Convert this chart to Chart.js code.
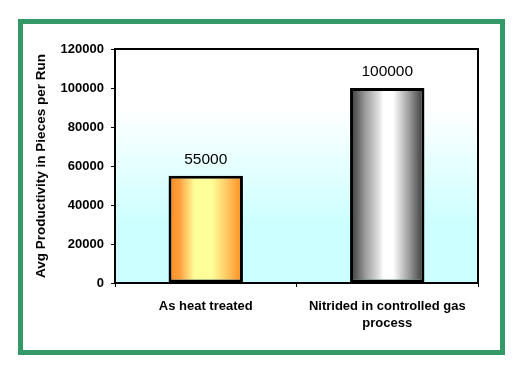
<!DOCTYPE html>
<html>
<head>
<meta charset="utf-8">
<script src="https://cdn.jsdelivr.net/npm/chart.js@4/dist/chart.umd.min.js"></script>
<style>
  html, body { margin: 0; padding: 0; background: #fff; }
  canvas { display: block; }
</style>
</head>
<body>
<canvas id="chart" width="523" height="373"></canvas>
<script>
const categories = ['As heat treated', ['Nitrided in controlled gas', 'process']];
const productivity = [55000, 100000];
const yTicks = [0, 20000, 40000, 60000, 80000, 100000, 120000];

const fontFamily = '"Liberation Sans", Arial, sans-serif';

// frame and plot background
const framePlugin = {
    id: 'frame',
    beforeDraw(chart) {
        const ctx = chart.ctx;
        ctx.save();
        ctx.fillStyle = '#ffffff';
        ctx.fillRect(0, 0, chart.width, chart.height);
        ctx.fillStyle = '#339966';
        ctx.fillRect(18, 19, 487, 336);
        ctx.fillStyle = '#ffffff';
        ctx.fillRect(23, 24, 477, 326);

        const a = chart.chartArea;
        const g = ctx.createLinearGradient(0, a.top, 0, a.bottom);
        g.addColorStop(0, '#ffffff');
        g.addColorStop(0.25, '#ffffff');
        g.addColorStop(0.75, '#ccffff');
        g.addColorStop(1, '#ccffff');
        ctx.fillStyle = g;
        ctx.fillRect(a.left, a.top, a.right - a.left, a.bottom - a.top);
        ctx.restore();
    },
    afterDatasetsDraw(chart) {
        const ctx = chart.ctx;
        const a = chart.chartArea;
        ctx.save();
        ctx.strokeStyle = '#000';
        ctx.lineWidth = 2;
        ctx.strokeRect(a.left, a.top, a.right - a.left, a.bottom - a.top);

        // value labels above bars
        ctx.fillStyle = '#000';
        ctx.font = '15.5px ' + fontFamily;
        ctx.textAlign = 'center';
        ctx.textBaseline = 'middle';
        chart.getDatasetMeta(0).data.forEach((bar, i) => {
            ctx.fillText(String(productivity[i]), bar.x, bar.y - 16);
        });
        ctx.restore();
    }
};

const barStops = [
    [[0, '#ff8a1a'], [0.15, '#ffa040'], [0.35, '#ffff99'], [0.58, '#ffff99'], [0.8, '#ffc45e'], [1, '#ff8a1a']],
    [[0, '#333333'], [0.2, '#999999'], [0.38, '#dddddd'], [0.45, '#ffffff'], [0.58, '#ffffff'], [0.8, '#999999'], [1, '#333333']]
];

function barFill(context) {
    const chart = context.chart;
    const x = chart.scales.x;
    if (!chart.chartArea || !x) return '#ccc';
    const i = context.dataIndex;
    const center = x.getPixelForValue(i);
    const half = (x.width / categories.length) * 0.41 / 2;
    const g = chart.ctx.createLinearGradient(center - half, 0, center + half, 0);
    barStops[i].forEach(s => g.addColorStop(s[0], s[1]));
    return g;
}

new Chart(document.getElementById('chart'), {
    type: 'bar',
    data: {
        labels: categories,
        datasets: [{
            data: productivity,
            backgroundColor: barFill,
            borderColor: '#000',
            borderWidth: 3,
            borderSkipped: false,
            barPercentage: 0.41,
            categoryPercentage: 1
        }]
    },
    options: {
        responsive: false,
        animation: false,
        layout: { padding: { top: 49, right: 45, left: 0, bottom: 0 } },
        plugins: {
            legend: { display: false },
            tooltip: { enabled: false }
        },
        scales: {
            x: {
                offset: true,
                afterFit(scale) { scale.height = 90; },
                grid: { drawOnChartArea: false, tickLength: 4, color: '#000', offset: true },
                border: { color: '#000', width: 2 },
                ticks: {
                    color: '#000',
                    padding: 10,
                    maxRotation: 0,
                    font: { family: fontFamily, size: 13, weight: 'bold', lineHeight: 1.38 }
                }
            },
            y: {
                min: 0,
                max: 120000,
                afterFit(scale) { scale.width = 115; },
                afterBuildTicks(scale) { scale.ticks = yTicks.map(v => ({ value: v })); },
                grid: { drawOnChartArea: false, tickLength: 4, color: '#000' },
                border: { color: '#000', width: 1 },
                ticks: {
                    color: '#000',
                    padding: 7,
                    callback: v => String(v),
                    font: { family: fontFamily, size: 13, weight: 'bold' }
                },
                title: {
                    display: true,
                    text: 'Avg Productivity in Pieces per Run',
                    color: '#000',
                    padding: { top: 33, bottom: 0 },
                    font: { family: fontFamily, size: 13.5, weight: 'bold', lineHeight: 1.2 }
                }
            }
        }
    },
    plugins: [framePlugin]
});
</script>
</body>
</html>
